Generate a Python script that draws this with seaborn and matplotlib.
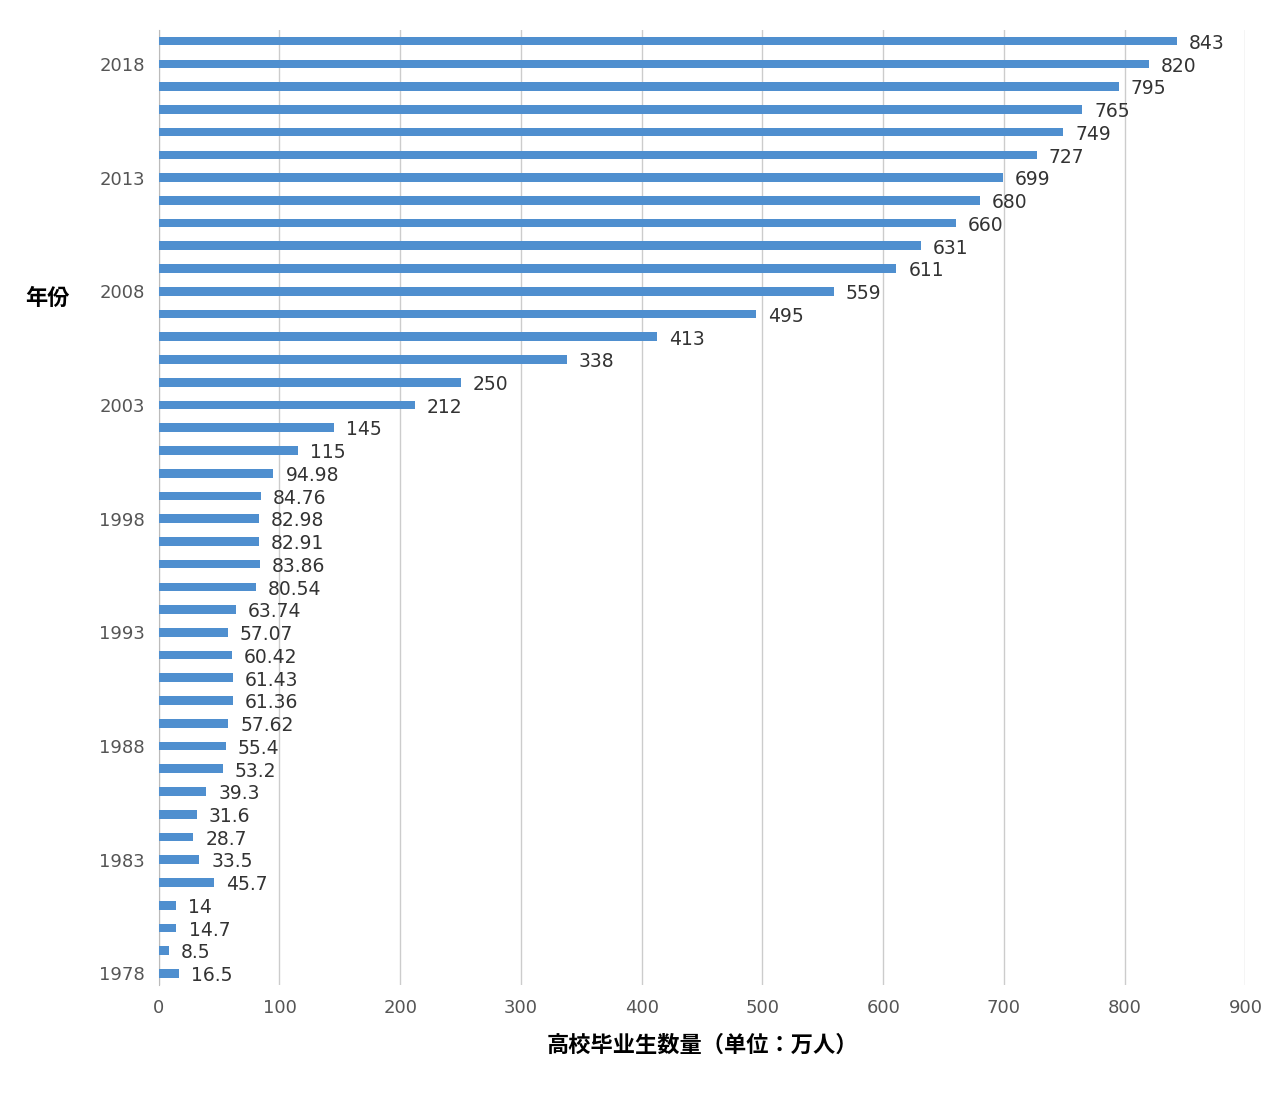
import matplotlib
matplotlib.use("Agg")
import matplotlib.pyplot as plt
import seaborn as sns
import pandas as pd

years = list(range(1978, 2020))
values = [16.5, 8.5, 14.7, 14, 45.7, 33.5, 28.7, 31.6, 39.3, 53.2, 55.4, 57.62,
          61.36, 61.43, 60.42, 57.07, 63.74, 80.54, 83.86, 82.91, 82.98, 84.76,
          94.98, 115, 145, 212, 250, 338, 413, 495, 559, 611, 631, 660, 680, 699,
          727, 749, 765, 795, 820, 843]
labels = ["16.5", "8.5", "14.7", "14", "45.7", "33.5", "28.7", "31.6", "39.3", "53.2",
          "55.4", "57.62", "61.36", "61.43", "60.42", "57.07", "63.74", "80.54", "83.86",
          "82.91", "82.98", "84.76", "94.98", "115", "145", "212", "250", "338", "413",
          "495", "559", "611", "631", "660", "680", "699", "727", "749", "765", "795",
          "820", "843"]
xticks = [0, 100, 200, 300, 400, 500, 600, 700, 800, 900]

cjk = ["Noto Sans CJK SC", "Noto Sans CJK JP", "Noto Sans CJK TC", "DejaVu Sans"]
plt.rcParams["font.family"] = "sans-serif"
plt.rcParams["font.sans-serif"] = ["DejaVu Sans"] + cjk
df = pd.DataFrame({"year": [str(y) for y in years], "value": values})
order = [str(y) for y in reversed(years)]

fig = plt.figure(figsize=(12.8, 11.04), dpi=100)
ax = fig.add_axes([0.124, 0.108, 0.849, 0.865])
sns.barplot(data=df, y="year", x="value", order=order, orient="h",
            color="#4f8fcf", width=0.38, ax=ax, saturation=1, zorder=3)
ax.set_xlim(0, 900)
ax.set_ylim(len(order) - 0.5, -0.5)
ax.set_xticks(xticks)
ax.set_xticklabels([str(t) for t in xticks], fontsize=13, color="#555555")
ax.set_yticks([order.index(str(y)) for y in range(1978, 2020, 5)])
ax.set_yticklabels([str(y) for y in range(1978, 2020, 5)], fontsize=13, color="#555555")
ax.tick_params(length=0, pad=10)
ax.grid(axis="x", color="#cccccc", linewidth=1, zorder=0)
for s in ["top", "right", "bottom"]:
    ax.spines[s].set_visible(False)
ax.spines["left"].set_color("#bbbbbb")
lab_map = dict(zip([str(y) for y in years], labels))
for i, y in enumerate(order):
    v = values[years.index(int(y))]
    ax.text(v + 10, i + 0.1, lab_map[y], va="center", ha="left", fontsize=13.5, color="#333333")
ax.set_xlabel("高校毕业生数量（单位：万人）", fontsize=16, fontweight="bold", labelpad=12,
              family=cjk)
ax.set_ylabel("")
fig.text(0.02, 0.73, "年份", fontsize=16, fontweight="bold", va="center", family=cjk)
fig.savefig("out.png", dpi=100, facecolor="white")
